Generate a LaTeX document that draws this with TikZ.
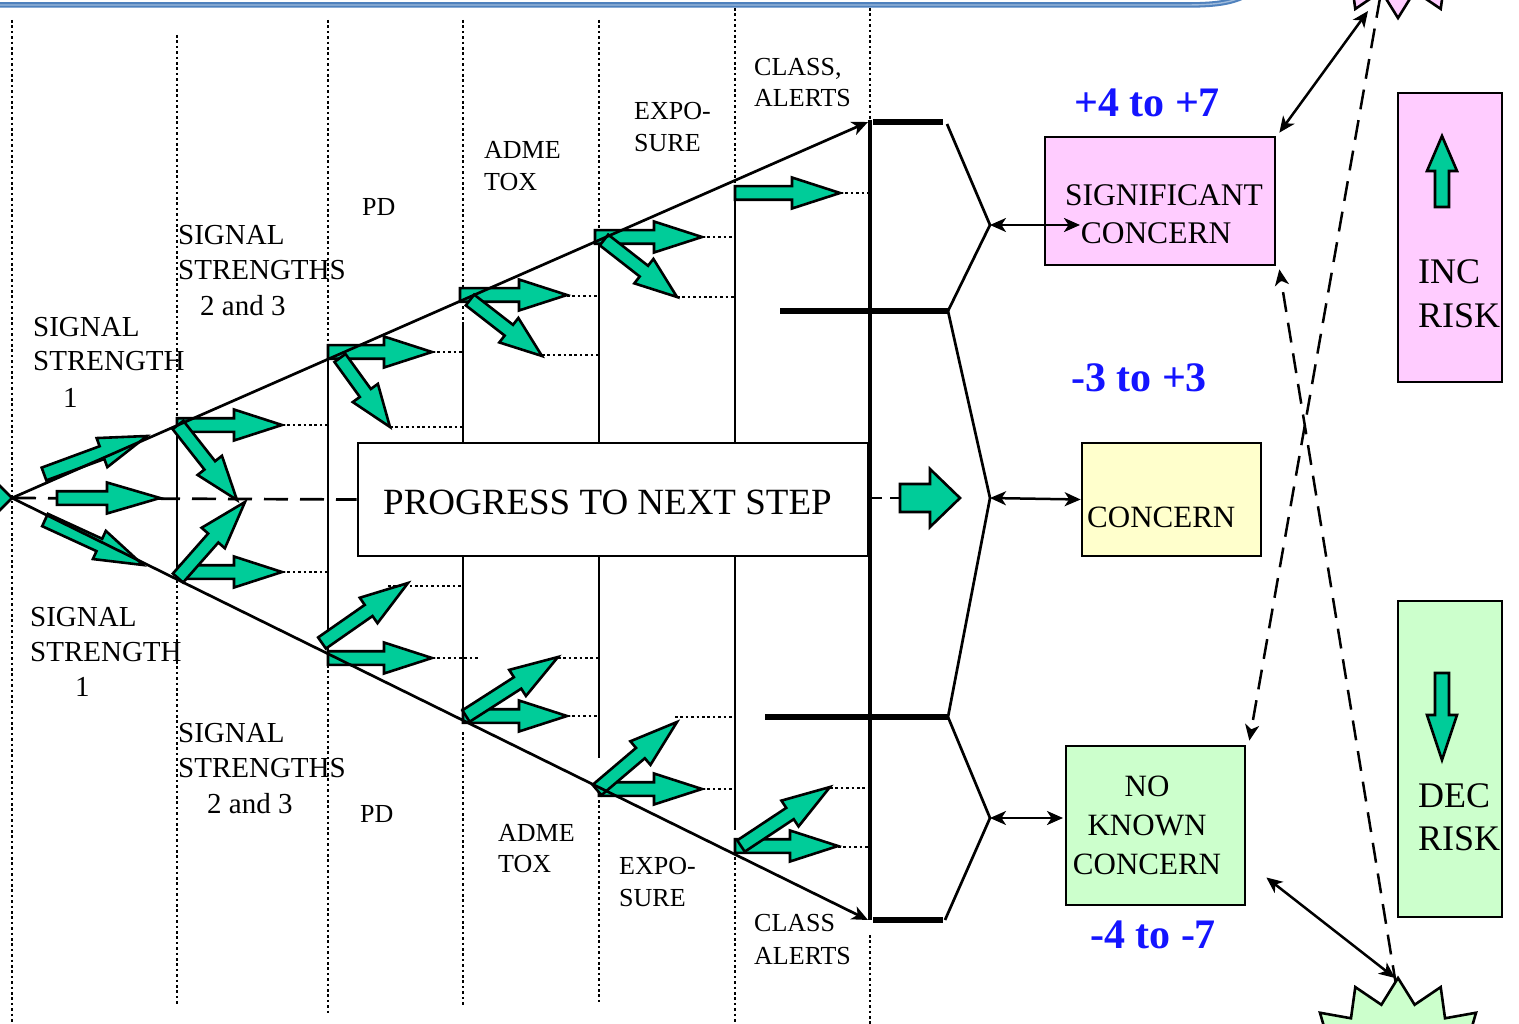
\documentclass[tikz,border=0pt]{standalone}
\usepackage{fontspec}
\setmainfont{Liberation Serif}
\usetikzlibrary{arrows.meta,calc}

\definecolor{arrowgreen}{RGB}{0,204,153}
\definecolor{softpink}{RGB}{255,204,255}
\definecolor{softyellow}{RGB}{255,255,204}
\definecolor{softgreen}{RGB}{204,255,204}
\definecolor{rangeblue}{RGB}{20,20,255}
\definecolor{rulesteel}{RGB}{79,129,189}

\tikzset{
  stageline/.style={line width=2.7pt},
  dotline/.style={line width=2.8pt, dash pattern=on 2.6pt off 2.8pt},
  dashline/.style={line width=2.7pt, dash pattern=on 24pt off 12pt},
  heavyline/.style={line width=6pt},
  onehead/.style={-{Stealth[length=16pt,width=14pt,inset=4.5pt]}},
  twoheads/.style={{Stealth[length=16pt,width=14pt,inset=4.5pt]}-{Stealth[length=16pt,width=14pt,inset=4.5pt]}},
  panel/.style={draw, line width=2.7pt, inner sep=0pt},
  blockarrow/.style={fill=arrowgreen, draw=black, line width=2.6pt, line join=miter},
  lab/.style={anchor=base west, inner sep=0pt, font=\fontsize{26}{31}\selectfont},
  siglab/.style={anchor=base west, inner sep=0pt, font=\fontsize{29}{35}\selectfont},
  rangelabel/.style={inner sep=0pt, text=rangeblue, font=\fontsize{42}{48}\selectfont\bfseries},
  starshape/.style={draw=black, line width=2.6pt, line join=miter},
  link/.style={line width=2.5pt},
}

% green block arrow: [head length]{tail x}{tail y}{tip x}{tip y}
\def\gaShaft{6.8}
\def\gaHead{15.5}
\newcommand\garrow[5][48]{%
  \pgfmathsetmacro\gaAng{atan2((#3)-(#5),(#4)-(#2))}%
  \pgfmathsetmacro\gaLen{veclen((#4)-(#2),(#5)-(#3))}%
  \pgfmathsetmacro\gaBase{\gaLen-(#1)}%
  \draw[blockarrow,shift={(#2,#3)},rotate=\gaAng]
    (0,-\gaShaft) -- (\gaBase,-\gaShaft) -- (\gaBase,-\gaHead) -- (\gaLen,0)
    -- (\gaBase,\gaHead) -- (\gaBase,\gaShaft) -- (0,\gaShaft) -- cycle;}

\begin{document}
\begin{tikzpicture}[x=1pt,y=-1pt]
\useasboundingbox (0,0) rectangle (1519,1024);
\fill[white] (0,0) rectangle (1519,1024);
\begin{scope}
\clip (0,0) rectangle (1519,1024);

% header rule
\draw[rulesteel, line width=5.5pt] (0,5) -- (1185,5) .. controls (1220,5) and (1235,2) .. (1252,-8);
\draw[rulesteel!55!white, line width=1.4pt] (0,5) -- (1185,5) .. controls (1220,5) and (1235,2) .. (1252,-8);

% stage separators (dotted parts)
\draw[dotline] (12,20) -- (12,1024);
\draw[dotline] (177,35) -- (177,420) (177,580) -- (177,1005);
\draw[dotline] (328,20) -- (328,345) (328,665) -- (328,1015);
\draw[dotline] (463,20) -- (463,325) (463,732) -- (463,1005);
\draw[dotline] (599,20) -- (599,243) (599,800) -- (599,1005);
\draw[dotline] (735,8) -- (735,198) (735,857) -- (735,1024);
\draw[dotline] (870,8) -- (870,120) (870,935) -- (870,1024);

% stage separators (solid parts)
\draw[stageline] (177,420) -- (177,580);
\draw[stageline] (328,345) -- (328,655);
\draw[stageline] (463,325) -- (463,443) (463,556) -- (463,712);
\draw[stageline] (599,243) -- (599,443) (599,556) -- (599,758);
\draw[stageline] (735,198) -- (735,443) (735,556) -- (735,830);
\draw[line width=3.2pt] (870,120) -- (870,920);

% central box and dashed axis
\node[panel, fill=white, minimum width=510pt, minimum height=113pt] (progress) at (613,499.5) {};
\node[anchor=base west, inner sep=0pt, font=\fontsize{37}{44}\selectfont] (progresstext) at (383,514) {PROGRESS TO NEXT STEP};
\coordinate (origin) at (12,498);
\coordinate (axisend) at (900,498);
\draw[dashline] (origin) -- (progress.west);
\draw[line width=2.7pt, dash pattern=on 10pt off 8pt] (872,498) -- (axisend);

% entry arrow head at the left edge
\draw[blockarrow] (-2,484) -- (12,498) -- (-2,512);

% stage 1
\garrow{44}{474}{147}{436}
\garrow[53]{57}{498}{160}{498}
\garrow{45}{520}{143}{565}

% stage 2
\garrow{177}{425}{282}{425}
\garrow[44]{178}{425}{237}{500}
\garrow{180}{572}{282}{572}
\garrow{178}{578}{245}{502}

% stage 3
\garrow{328}{352}{432}{352}
\garrow[42]{340}{358}{390}{427}
\garrow{328}{658}{432}{658}
\garrow{322}{643}{408}{583}

% stage 4
\garrow{460}{295}{567}{295}
\garrow[42]{470}{300}{542}{356}
\garrow{463}{716}{567}{716}
\garrow{466}{716}{558}{657}

% stage 5
\garrow{595}{237}{702}{237}
\garrow[42]{604}{240}{677}{297}
\garrow{599}{789}{702}{789}
\garrow{597}{790}{677}{722}

% stage 6
\garrow{735}{193}{840}{193}
\garrow{735}{846}{838}{846}
\garrow{741}{846}{830}{787}

% arrow into the outcomes
{\def\gaShaft{14}\def\gaHead{29}\garrow[30]{900}{498}{960}{498}}

% dotted leaders to the next separator
\draw[dotline] (282,425) -- (328,425) (282,572) -- (328,572);
\draw[dotline] (432,352) -- (463,352) (390,427) -- (463,427)
               (388,586) -- (463,586) (432,658) -- (478,658);
\draw[dotline] (567,296) -- (599,296) (542,355) -- (599,355)
               (558,658) -- (599,658) (567,716) -- (599,716);
\draw[dotline] (702,237) -- (735,237) (677,297) -- (735,297)
               (675,717) -- (735,717) (702,789) -- (735,789);
\draw[dotline] (840,193) -- (870,193) (830,788) -- (870,788) (838,847) -- (870,847);

% envelope of the signal fan
\coordinate (uppertip) at (868,122);
\coordinate (lowertip) at (868,920);
\draw[stageline, onehead] (origin) -- (uppertip);
\draw[stageline, onehead] (origin) -- (lowertip);

% score bands
\draw[heavyline] (873,122) -- (943,122);
\draw[heavyline] (780,311) -- (948,311);
\draw[heavyline] (765,717) -- (948,717);
\draw[heavyline] (873,920) -- (943,920);
\coordinate (bandA) at (990,225);
\coordinate (bandB) at (990,498);
\coordinate (bandC) at (990,818);
\draw[stageline, line join=miter] (947,124) -- (bandA) -- (948,311) -- (bandB) -- (948,717) -- (bandC) -- (945,920);

% outcome boxes
\node[panel, fill=softpink, minimum width=230pt, minimum height=128pt] (significant) at (1160,201) {};
\node[inner sep=0pt, font=\fontsize{31.5}{38}\selectfont] (significanttext) at (1164,195) {SIGNIFICANT};
\node[inner sep=0pt, font=\fontsize{31.5}{38}\selectfont] (significanttextb) at (1156,233) {CONCERN};
\node[panel, fill=softyellow, minimum width=179pt, minimum height=113pt] (concern) at (1171.5,499.5) {};
\node[anchor=base west, inner sep=0pt, font=\fontsize{31}{37}\selectfont] (concerntext) at (1087,527) {CONCERN};
\node[panel, fill=softgreen, minimum width=179pt, minimum height=159pt] (noconcern) at (1155.5,825.5) {};
\node[align=center, inner sep=0pt, font=\fontsize{31}{39}\selectfont] (noconcerntext) at (1147,825) {NO\\KNOWN\\CONCERN};

\coordinate (sigin) at (1080,225);
\coordinate (noin) at (1063,818);
\draw[link, twoheads] (bandA) -- (sigin);
\draw[link, twoheads] (bandB) -- (concern.west);
\draw[link, twoheads] (bandC) -- (noin);

% score ranges
\node[rangelabel] (rangehigh) at (1147,103) {+4 to +7};
\node[rangelabel] (rangemid) at (1139,378) {-3 to +3};
\node[rangelabel] (rangelow) at (1153,935) {-4 to -7};

% risk direction panels
\node[panel, fill=softpink, minimum width=104pt, minimum height=289pt] (incrisk) at (1450,237.5) {};
\node[anchor=base west, inner sep=0pt, font=\fontsize{36}{44}\selectfont] (inctext) at (1418,284) {INC};
\node[anchor=base west, inner sep=0pt, font=\fontsize{36}{44}\selectfont] (incrisktext) at (1418,328) {RISK};
{\def\gaShaft{7}\def\gaHead{15}\garrow[35]{1442}{207}{1442}{136}}
\node[panel, fill=softgreen, minimum width=104pt, minimum height=316pt] (decrisk) at (1450,759) {};
\node[anchor=base west, inner sep=0pt, font=\fontsize{36}{44}\selectfont] (dectext) at (1418,807) {DEC};
\node[anchor=base west, inner sep=0pt, font=\fontsize{36}{44}\selectfont] (decrisktext) at (1418,850) {RISK};
{\def\gaShaft{7}\def\gaHead{15}\garrow[45]{1442}{673}{1442}{760}}

% links to the two bursts
\coordinate (topburst) at (1368,11);
\coordinate (topburstdash) at (1380,-2);
\coordinate (lowburst) at (1395,978);
\coordinate (lowburstdash) at (1396,985);
\coordinate (sigcorner) at ($(significant.north east)+(3,-3)$);
\draw[link, twoheads] (sigcorner) -- (topburst);
\draw[link, dash pattern=on 20pt off 11pt, onehead] (topburstdash) -- ($(noconcern.north east)+(3,-4)$);
\draw[link, dash pattern=on 20pt off 11pt, onehead] (lowburstdash) -- ($(significant.south east)+(3,3)$);
\draw[link, twoheads] ($(noconcern.east)+(20,52)$) -- (lowburst);

% bursts
\draw[starshape, fill=softpink] (1398,18)
  \foreach \k [evaluate=\k as \r using {105-25*mod(\k,2)}] in {1,...,29} { -- ({1398+\r*sin(\k*12)},{-87+\r*cos(\k*12)}) } -- cycle;
\draw[starshape, fill=softgreen] (1398,978)
  \foreach \k [evaluate=\k as \r using {105-25*mod(\k,2)}] in {1,...,29} { -- ({1398+\r*sin(\k*12)},{1083-\r*cos(\k*12)}) } -- cycle;
\end{scope}

% stage labels
\node[siglab] (s1a) at (33,337) {SIGNAL};
\node[siglab] (s1b) at (33,371) {STRENGTH};
\node[siglab] (s1c) at (63,407) {1};
\node[siglab] (s2a) at (178,245) {SIGNAL};
\node[siglab] (s2b) at (178,280) {STRENGTHS};
\node[siglab] (s2c) at (200,316) {2 and 3};
\node[lab] (pdup) at (362,216) {PD};
\node[lab] (admeup) at (484,159) {ADME};
\node[lab] (toxup) at (484,191) {TOX};
\node[lab] (expoup) at (634,120) {EXPO-};
\node[lab] (sureup) at (634,152) {SURE};
\node[lab] (classup) at (754,76) {CLASS,};
\node[lab] (alertsup) at (754,107) {ALERTS};

\node[siglab] (t1a) at (30,626) {SIGNAL};
\node[siglab] (t1b) at (30,661) {STRENGTH};
\node[siglab] (t1c) at (75,696) {1};
\node[siglab] (t2a) at (178,742) {SIGNAL};
\node[siglab] (t2b) at (178,777) {STRENGTHS};
\node[siglab] (t2c) at (207,813) {2 and 3};
\node[lab] (pdlow) at (360,822) {PD};
\node[lab] (admelow) at (498,841) {ADME};
\node[lab] (toxlow) at (498,872) {TOX};
\node[lab] (expolow) at (619,874) {EXPO-};
\node[lab] (surelow) at (619,906) {SURE};
\node[lab] (classlow) at (754,931) {CLASS};
\node[lab] (alertslow) at (754,964) {ALERTS};
\end{tikzpicture}
\end{document}
